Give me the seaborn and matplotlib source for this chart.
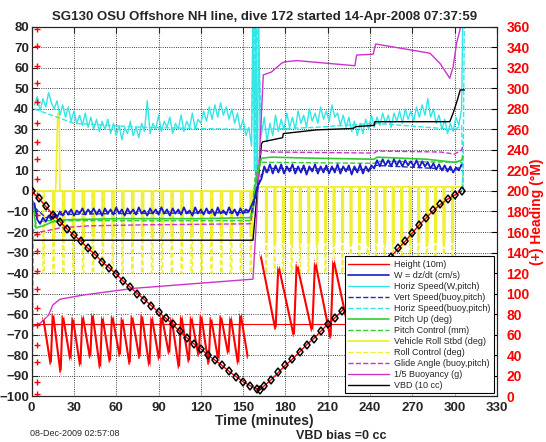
import numpy as np
import matplotlib
matplotlib.use("Agg")
import matplotlib.pyplot as plt
from matplotlib.lines import Line2D
import seaborn as sns

# ---------------- data ----------------
title = "SG130 OSU Offshore NH line, dive 172 started 14-Apr-2008 07:37:59"
x_ticks = list(range(0, 331, 30))
y_ticks = list(range(-100, 81, 10))
hdg_ticks = list(range(0, 361, 20))

# depth track (Height, 10 m units)
depth_t = [0, 5, 10, 15, 20, 25, 30, 35, 40, 45, 50, 55, 60, 65, 70, 75, 80, 85, 90, 95,
           100, 105, 110, 115, 120, 125, 130, 135, 140, 145, 150, 155, 160, 162,
           165, 170, 175, 180, 185, 190, 195, 200, 205, 210, 215, 220, 225, 230, 235,
           240, 245, 250, 255, 260, 265, 270, 275, 280, 285, 290, 295, 300, 305]
depth_v = [0, -3.5, -7.5, -11.5, -15, -18.5, -21.5, -24.5, -28, -31, -34.5, -37.5, -40.5,
           -44, -47, -50, -53, -56, -59, -62, -65, -68.5, -71.5, -74.5, -77, -80, -82.5,
           -85, -88, -90.5, -93, -95, -96.5, -97,
           -95, -92, -88.5, -85, -82, -78.5, -75, -72, -68.5, -65, -62, -58.5, -55, -51,
           -47, -43.5, -39.5, -35.5, -32, -28, -24.5, -20.5, -16.5, -13, -9.5, -6.5, -4,
           -2, 0]

# horizontal speed from W and pitch (cm/s), every 2 min
hs_desc = [42, 46, 39, 45, 41, 48, 43, 40, 44, 37,
           42, 36, 41, 34, 39, 33, 37, 32, 38, 31,
           36, 30, 35, 29, 34, 30, 35, 28, 33, 27,
           32, 25, 31, 28, 34, 27, 31, 26, 33, 29,
           44, 28, 33, 30, 37, 29, 34, 31, 36, 28,
           33, 30, 37, 29, 34, 31, 38, 30, 35, 33,
           39, 34, 41, 35, 42, 36, 43, 37, 41, 35,
           40, 33, 38, 30, 35, 27, 31, 22]
hs_clmb = [28, 36, 24, 33, 27, 37, 29, 35, 30, 38,
           31, 36, 30, 39, 33, 37, 31, 40, 34, 38,
           33, 41, 35, 39, 34, 42, 36, 38, 32, 37,
           31, 36, 29, 34, 27, 33, 28, 35, 30, 37,
           31, 36, 32, 38, 33, 37, 31, 38, 34, 39,
           33, 40, 35, 39, 34, 41, 36, 42, 37, 45,
           36, 40, 33, 37, 30, 35, 28, 33, 29, 36,
           32, 40]

# vertical velocity dz/dt (cm/s), every 2 min
w_desc = [-6, -14, -16, -13, -15, -12, -14, -11, -13, -10,
          -12, -9.5, -11.5, -9, -12, -9.5, -11, -8.5, -11.5, -9,
          -11, -8.5, -11.5, -9, -12, -8.5, -11, -9, -11.5, -8,
          -11, -9, -12, -8.5, -11, -9, -11.5, -8, -11, -9.5,
          -12, -8.5, -11, -9, -11.5, -8, -11, -9, -12, -8.5,
          -11, -9, -11.5, -8, -11, -9.5, -12, -8, -11, -9,
          -11.5, -8.5, -11, -9, -12, -8, -11, -9.5, -11.5, -8,
          -11, -9, -12, -8.5, -11, -9, -10, -7]
w_clmb = [6, 12, 9, 13, 8.5, 12.5, 9, 13, 8.5, 12,
          9.5, 13, 8.5, 12, 9, 12.5, 8, 12, 9.5, 13,
          8.5, 12, 9, 12.5, 8.5, 12, 9, 13, 8.5, 12,
          9.5, 12.5, 8, 12, 9, 13, 8.5, 12, 9.5, 12.5,
          11, 15, 12, 15.5, 12.5, 15, 12, 15.5, 12.5, 15,
          12, 15, 12.5, 14.5, 12, 15, 11.5, 14.5, 12, 14,
          11, 13.5, 10.5, 13, 10, 12.5, 9.5, 12, 9, 11.5,
          10, 13]

# slowly varying model / control series
vs_t = [2, 10, 20, 60, 156, 163, 170, 240, 244, 300, 305]
vs_v = [-8, -13, -11.5, -11, -10.5, 8, 11, 10.5, 12.5, 10.5, 12]
hb_t = [2, 10, 30, 80, 156, 158, 159, 160, 163, 200, 244, 300, 305, 306, 307]
hb_v = [40, 38, 33, 31, 30, 90, 5, 90, 30, 31, 33, 30, 32, 0, 90]
pitch_t = [1, 3, 8, 15, 25, 60, 120, 155, 157, 159, 163, 170, 200, 243, 245, 280, 300, 305, 306]
pitch_v = [-5, -18, -17, -15, -14, -13.5, -13.5, -13, -10, 5, 16, 16.5, 16, 15.5, 16.5,
           15.5, 14, 15, 17]
pctl_t = [0.5, 1, 3, 10, 155, 157, 159, 163, 243, 245, 305]
pctl_v = [-100, -20, -15.5, -14.5, -14.5, -5, 10, 14, 13.5, 14.5, 14]
glide_t = [2, 5, 10, 20, 40, 80, 155, 157, 160, 163, 170, 243, 245, 290, 300, 305, 306]
glide_v = [-22, -20, -19.5, -18, -17, -16.5, -16, -10, 10, 20, 19, 18.5, 19.5, 19, 18, 20, 22]
buoy_t = [0, 0.5, 1, 6, 12, 15, 20, 37, 72, 119, 157, 159.6, 164.3, 170, 177.3, 179.6, 188,
          229.3, 230.5, 242.3, 244, 282.5, 289.6, 296.6, 299, 301.4, 303.8, 305]
buoy_v = [85, -66, -66, -64.5, -60.5, -55.6, -52.8, -50.7, -47.5, -45, -43, -12.5, 56.6,
          58, 62.3, 63, 63.6, 61.1, 66.3, 66.7, 71.7, 67.2, 62.3, 55, 60.6, 72, 78.5, 90]
vbd_t = [0.8, 157, 163, 164, 178, 178.5, 202, 228, 230, 243, 243.5, 296.6, 299, 302, 304, 307]
vbd_v = [-24, -24, 23, 24, 26, 28, 29.8, 30.5, 31.4, 32, 33.8, 33.8, 38, 44.4, 49.3, 49.3]

# roll: pulse times (min) and levels (deg)
roll_desc_pulses = [8, 15, 22, 29, 36, 43, 50, 57, 64, 71, 78, 85, 92, 99, 106, 113,
                    120, 127, 134, 141, 148, 155]
roll_clmb_pulses = [166, 172, 178, 184, 190, 196, 202, 208, 214, 220, 226, 232, 238, 244,
                    250, 256, 262, 268, 274, 280, 286, 292, 298]

# heading sawtooth (deg): tooth start, top and bottom heading
hdg_desc_t0 = [8, 15, 22, 29, 36, 43, 50, 57, 64, 71, 78, 85, 92, 99, 106, 113, 120,
               127, 134, 141, 148]
hdg_desc_top = [78, 82, 80, 78, 80, 82, 79, 80, 78, 80, 81, 79, 80, 78, 80, 79, 81, 78,
                80, 79, 82]
hdg_desc_bot = [30, 22, 34, 28, 36, 26, 32, 38, 30, 36, 28, 34, 40, 26, 32, 38, 30, 34,
                40, 30, 36]
hdg_clmb_t0 = [162, 175, 188, 201, 214, 227, 240, 253, 266, 279, 292]
hdg_clmb_top = [140, 128, 130, 132, 134, 130, 138, 128, 134, 132, 136]
hdg_clmb_bot = [64, 58, 62, 56, 64, 60, 54, 62, 58, 60, 64]
hdg_spin = [358, 341, 322, 305, 287, 266, 248, 231, 212, 196, 177, 158, 141, 122, 104,
            86, 69, 50, 33, 14, 2]
hdg_target = 70

# ---------------- assemble ----------------
t_hs = list(np.arange(2, 157, 2)) + [157, 158, 159, 160, 161, 162] + list(np.arange(163, 306, 2)) + [306]
v_hs = hs_desc + [95, 10, 95, -5, 90, 25] + hs_clmb + [95]
t_w = list(np.arange(2, 157, 2)) + [158, 160] + list(np.arange(163, 306, 2))
v_w = w_desc + [-4, 2] + w_clmb


def pulses(times, base, low, width):
    tt, vv = [], []
    for p in times:
        tt += [p, p, p + width, p + width]
        vv += [base, low, low, base]
    return tt, vv


rc_dt, rc_dv = pulses(roll_desc_pulses, 0, -40, 1.0)
rc_ct, rc_cv = pulses(roll_clmb_pulses, 2, -40, 0.8)
rv_dt, rv_dv = pulses(roll_desc_pulses, 0, -22, 1.4)
rv_ct, rv_cv = pulses(roll_clmb_pulses, 2, -25, 1.1)
rollc_t = [0.5] + rc_dt + [156, 160] + rc_ct + [305, 306]
rollc_v = [0] + rc_dv + [0, 2] + rc_cv + [2, 5]
rollv_t = [0.5, 1, 17, 18.5, 19.5, 20] + rv_dt[4:] + [156, 160] + rv_ct + [305, 306]
rollv_v = [15, 0, 0, 38, 38, 0] + rv_dv[4:] + [0, 2] + rv_cv + [2, 8]


def sawtooth(t0, top, bot, seg):
    tt, hh = [], []
    for i in range(len(t0)):
        tt += [t0[i], t0[i] + seg]
        hh += [top[i], bot[i]]
    return tt, hh


hd_t, hd_v = sawtooth(hdg_desc_t0, hdg_desc_top, hdg_desc_bot, 5.5)
hc_t, hc_v = sawtooth(hdg_clmb_t0, hdg_clmb_top, hdg_clmb_bot, 11)

# ---------------- figure ----------------
sns.set_style("white")
plt.rcParams['font.family'] = ['Liberation Sans', 'DejaVu Sans']
plt.rcParams['font.weight'] = 'bold'

fig = plt.figure(figsize=(5.46, 4.42), dpi=100)
ax = fig.add_axes([0.058, 0.104, 0.852, 0.835])
ax2 = ax.twinx()

CY = '#33e6e6'
YE = '#f0f030'
GR = '#33cc33'
MA = '#cc33cc'
BL = '#1a1acc'


def line(x, y, **kw):
    sns.lineplot(x=x, y=y, ax=ax, estimator=None, sort=False, **kw)


line(rollc_t, rollc_v, color=YE, lw=1, ls='--')
line(rollv_t, rollv_v, color=YE, lw=1.2)
line(hb_t, hb_v, color=CY, lw=1, ls='--')
line(t_hs, v_hs, color=CY, lw=1)
line(vbd_t, vbd_v, color='black', lw=1)
line(buoy_t, buoy_v, color=MA, lw=1)
line(glide_t, glide_v, color=MA, lw=1, ls='--')
line(pctl_t, pctl_v, color=GR, lw=1, ls='--')
line(pitch_t, pitch_v, color=GR, lw=1.2)
line(vs_t, vs_v, color='#2233aa', lw=1, ls='--')
line(t_w, v_w, color=BL, lw=1.3)
line([0, 305], [-65, -65], color='red', lw=0.8)

# heading on right axis
for tx, hv in [(hd_t, hd_v), (hc_t, hc_v)]:
    sns.lineplot(x=tx, y=hv, ax=ax2, estimator=None, sort=False, color='red', lw=1.5,
                 marker='+', ms=5, mew=1)
sns.scatterplot(x=[4] * len(hdg_spin), y=hdg_spin, ax=ax2, color='red', marker='+',
                s=14, linewidth=1)

# depth with markers (drawn above heading)
sns.lineplot(x=depth_t, y=[(d + 100) * 2 for d in depth_v], ax=ax2, estimator=None,
             sort=False, color='red', lw=1, marker='d', ms=4.5, mfc='none', mec='black',
             mew=1.1, zorder=5)

ax.set_xlim(0, 330)
ax.set_ylim(-100, 80)
ax2.set_ylim(0, 360)
ax.set_xticks(x_ticks)
ax.set_yticks(y_ticks)
ax2.set_yticks(hdg_ticks)
ax.grid(True, color='black', ls=':', lw=0.6)
ax.tick_params(direction='in', top=True, labelsize=9.5, length=4, width=0.8, pad=2)
ax.tick_params(axis='x', pad=4)
ax2.tick_params(direction='in', labelsize=10, length=4, width=0.8, pad=7)
ax2.tick_params(axis='y', labelcolor='red', color='black')
for lab in ax.get_xticklabels() + ax.get_yticklabels() + ax2.get_yticklabels():
    lab.set_fontweight('bold')
for sp in ax.spines.values():
    sp.set_linewidth(0.8)
ax.set_xlabel("Time (minutes)", fontsize=10, fontweight='bold', labelpad=0)
ax2.set_ylabel("(+) Heading (°M)", fontsize=10, fontweight='bold', color='red', labelpad=0)
ax.set_title(title, fontsize=9.5, fontweight='bold', pad=5)

handles = [
    Line2D([], [], color='red', lw=1, label='Height (10m)'),
    Line2D([], [], color=BL, lw=1.2, label='W = dz/dt (cm/s)'),
    Line2D([], [], color=CY, lw=1, label='Horiz Speed(W,pitch)'),
    Line2D([], [], color='#2233aa', lw=1, ls='--', label='Vert Speed(buoy,pitch)'),
    Line2D([], [], color=CY, lw=1, ls='--', label='Horiz Speed(buoy,pitch)'),
    Line2D([], [], color=GR, lw=1.2, label='Pitch Up (deg)'),
    Line2D([], [], color=GR, lw=1, ls='--', label='Pitch Control (mm)'),
    Line2D([], [], color=YE, lw=1.3, label='Vehicle Roll Stbd (deg)'),
    Line2D([], [], color=YE, lw=1, ls='--', label='Roll Control (deg)'),
    Line2D([], [], color=MA, lw=1, ls='--', label='Glide Angle (buoy,pitch)'),
    Line2D([], [], color=MA, lw=1, label='1/5 Buoyancy (g)'),
    Line2D([], [], color='black', lw=1, label='VBD (10 cc)'),
]
leg = ax2.legend(handles=handles, loc='lower right', frameon=True,
                 fancybox=False, edgecolor='black', framealpha=1, handlelength=4.5,
                 borderaxespad=0.3, labelspacing=0.22, handletextpad=0.6,
                 prop={'size': 6.5, 'weight': 'normal'})
leg.get_frame().set_linewidth(0.8)

fig.text(0.055, 0.014, "08-Dec-2009 02:57:08", fontsize=6.5, fontweight='normal')
fig.text(0.625, 0.006, "VBD bias =0 cc", fontsize=9, fontweight='bold', ha='center')

fig.savefig("out.png", dpi=100)
